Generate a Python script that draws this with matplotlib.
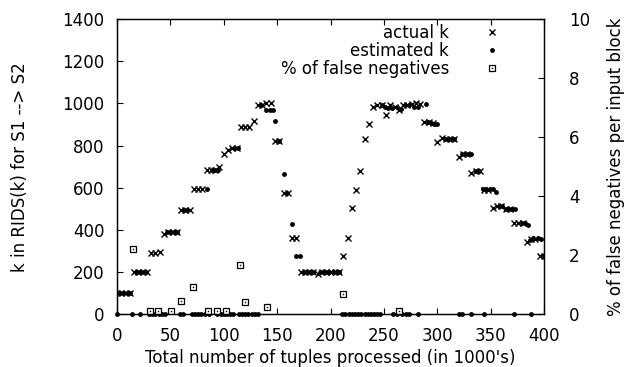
import matplotlib
matplotlib.use("Agg")
import matplotlib.pyplot as plt

plt.rcParams['font.family'] = ['DejaVu Sans']

# actual k, one sample every 4k tuples
actual_x = list(range(0, 401, 4))
actual_k = [100, 100, 100, 100,
            200, 200, 200, 200,
            290, 290, 295,
            380, 390, 390, 390,
            495, 495, 495,
            595, 595, 595,
            685, 685, 685, 700,
            760, 780, 790, 790,
            890, 890, 890, 915,
            990, 990, 1000, 1000,
            820, 820,
            575, 575,
            360, 360,
            200, 200, 200, 200, 192, 200, 200, 200, 200, 200,
            275, 360, 505, 590, 680, 830, 900,
            985, 990, 990, 945, 990, 985, 968, 990, 990, 995, 1000, 995,
            910, 910, 905,
            815, 835, 830, 830, 830,
            745, 760, 760,
            670, 680, 680,
            590, 590,
            505, 515, 515, 500, 500,
            435, 435, 435,
            345, 355, 355,
            275, 275]

# estimated k
est_x = [3, 6, 9, 12, 18, 21, 24, 27, 47, 50, 53, 56, 63, 66, 84, 89, 92, 95,
         110, 113, 135, 140, 143, 146, 148, 152, 156, 159, 163.6, 168, 171,
         175, 178, 181, 184, 190, 193, 196, 199, 202, 205, 208,
         248, 251, 254, 258, 262, 266, 270, 274, 278, 282, 289,
         291, 294, 297, 300, 307, 310, 313, 316, 323, 326, 329, 332,
         336, 339, 343, 346, 349, 352, 355, 358, 361, 364, 367, 370, 373,
         379, 382, 385, 387, 390, 394, 397, 400]
est_k = [100, 100, 100, 100, 200, 200, 200, 200, 390, 390, 390, 390, 495, 495, 595, 685, 685, 685,
         790, 790, 990, 970, 970, 970, 915, 820, 665, 575, 430, 275, 275,
         200, 200, 200, 200, 200, 200, 200, 200, 200, 200, 200,
         990, 985, 980, 980, 985, 975, 990, 990, 985, 985, 995,
         910, 905, 900, 900, 830, 830, 830, 830, 760, 760, 760, 760,
         678, 678, 592, 592, 592, 592, 578, 515, 515, 500, 500, 500, 500,
         435, 435, 425, 350, 360, 360, 355, 275]

# estimated k that sit on zero
zero_x = [0, 14, 22, 30, 33, 36, 39, 42, 45, 59, 62, 70, 73, 76, 79, 82, 86,
          94, 97, 100, 103, 106, 109, 114, 117, 120, 123, 126, 129, 132,
          211, 214, 217, 220, 223, 226, 229, 232, 235, 238, 241, 244, 246,
          259, 262, 267, 271, 274, 282, 320, 323, 332, 344, 372, 388]
zero_k = [0] * len(zero_x)

# % of false negatives per input block
fn_x = [14.7, 30.6, 38.7, 50.3, 59.5, 71.5, 85.4, 93.5, 101.9, 115.2, 120, 140.2, 212, 264.5]
fn_pct = [2.2, 0.12, 0.12, 0.1, 0.45, 0.93, 0.12, 0.12, 0.1, 1.67, 0.41, 0.26, 0.69, 0.1]

fig = plt.figure(figsize=(6.25, 3.67), dpi=100)
ax = fig.add_axes([117 / 625, 1 - 314.3 / 367, 427 / 625, 295.3 / 367])
ax2 = ax.twinx()

h1, = ax.plot(actual_x, actual_k, 'x', color='black', ms=3.8, mew=1.0, label='actual k')
h2, = ax.plot(est_x, est_k, 'o', color='black', ms=3.5, mew=0, label='estimated k')
ax.plot(zero_x, zero_k, 'o', color='black', ms=3.5, mew=0, clip_on=False)
h3, = ax2.plot(fn_x, fn_pct, 's', mfc='white', mec='black', ms=4.5, mew=0.9)
h3b, = ax2.plot(fn_x, fn_pct, 's', color='black', ms=1.0, mew=0)

ax.set_xlim(0, 400)
ax.set_ylim(0, 1400)
ax2.set_ylim(0, 10)
ax.set_xticks(range(0, 401, 50))
ax.set_yticks(range(0, 1401, 200))
ax2.set_yticks(range(0, 11, 2))

fs = 12
ax.tick_params(direction='in', length=4, width=0.8, top=True, labelsize=fs)
ax.tick_params(axis='y', pad=9)
ax.tick_params(axis='x', pad=9)
ax2.tick_params(direction='in', length=4, width=0.8, labelsize=fs, pad=18)
for a in (ax, ax2):
    for s in a.spines.values():
        s.set_linewidth(0.9)

ax.set_xlabel("Total number of tuples processed (in 1000's)", fontsize=fs, labelpad=3)
ax.set_ylabel("k in RIDS(k) for S1 --> S2", fontsize=fs, labelpad=24)
ax2.set_ylabel("% of false negatives per input block", fontsize=fs, labelpad=12)

leg = ax2.legend([h1, h2, (h3, h3b)], ['actual k', 'estimated k', '% of false negatives'],
                 loc='upper right', bbox_to_anchor=(504 / 625, 1 - 23.5 / 367),
                 bbox_transform=fig.transFigure, frameon=False, markerfirst=False,
                 fontsize=fs, handlelength=1.5, handletextpad=1.8, labelspacing=0.0,
                 borderpad=0, borderaxespad=0)

fig.savefig('out.png', dpi=100)
